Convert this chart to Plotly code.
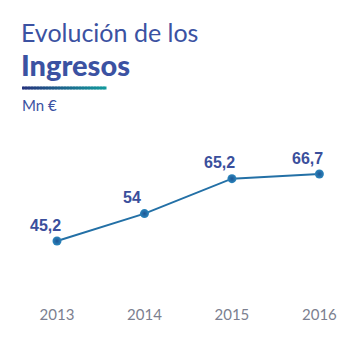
import plotly.graph_objects as go

# Revenue series (millions of euros)
years = [2013, 2014, 2015, 2016]
ingresos = [45.2, 54.0, 65.2, 66.7]
value_labels = ["45,2", "54", "65,2", "66,7"]
tick_labels = ["2013", "2014", "2015", "2016"]

W, H = 354, 338
M_L, M_R, M_T, M_B = 0, 0, 0, 40
plot_h = H - M_T - M_B

def px_x(px):
    return px / W

def px_y(py):
    return 1 - (py - M_T) / plot_h

TITLE_BLUE = "#3b52a2"
LINE_BLUE = "#2370a6"

fig = go.Figure()

fig.add_trace(go.Scatter(
    x=years,
    y=ingresos,
    mode="lines+markers",
    line=dict(color=LINE_BLUE, width=2),
    marker=dict(size=9, color="#2b86bd",
                gradient=dict(type="radial", color="#1d5594")),
    hoverinfo="skip",
    showlegend=False,
))

# Value labels above each point
for x, y, t in zip(years, ingresos, value_labels):
    fig.add_annotation(
        x=x, y=y, text=t, showarrow=False,
        xshift=-12, yshift=16,
        font=dict(family="Liberation Sans", size=16, color="#3a4f9c", weight="bold"),
    )

# Heading block
fig.add_annotation(
    xref="paper", yref="paper", x=px_x(20), y=px_y(32.5),
    xanchor="left", yanchor="middle", showarrow=False, borderpad=0,
    text="Evolución de los",
    font=dict(family="Lato", size=25, color=TITLE_BLUE, weight=400),
)
fig.add_annotation(
    xref="paper", yref="paper", x=px_x(20), y=px_y(65),
    xanchor="left", yanchor="middle", showarrow=False, borderpad=0,
    text="Ingresos",
    font=dict(family="Lato", size=29, color=TITLE_BLUE, weight=900),
)
fig.add_annotation(
    xref="paper", yref="paper", x=px_x(20), y=px_y(105),
    xanchor="left", yanchor="middle", showarrow=False,
    text="Mn €",
    font=dict(family="Lato", size=15, color=TITLE_BLUE),
)

# Gradient rule under the heading
c0 = (0x26, 0x35, 0x7e)
c1 = (0x13, 0x99, 0x9c)
n = 56
x0, x1 = 22, 106
for i in range(n):
    f = i / (n - 1)
    col = "rgb(%d,%d,%d)" % tuple(round(a + (b - a) * f) for a, b in zip(c0, c1))
    xa = x0 + (x1 - x0) * i / n
    xb = x0 + (x1 - x0) * (i + 1) / n + 0.5
    fig.add_shape(
        type="rect", xref="paper", yref="paper",
        x0=px_x(xa), x1=px_x(xb), y0=px_y(89.5), y1=px_y(86.5),
        fillcolor=col, line=dict(width=0), layer="above",
    )

ppy = 87.47  # pixels per year
x_lo = 2013 - 57 / ppy
x_hi = 2016 + (W - 319.4) / ppy
ppv = 3.116  # pixels per million
y_hi = 45.2 + 241 / ppv
y_lo = 45.2 - (plot_h - 241) / ppv

fig.update_layout(
    width=W, height=H,
    margin=dict(l=M_L, r=M_R, t=M_T, b=M_B),
    paper_bgcolor="white", plot_bgcolor="white",
    xaxis=dict(
        range=[x_lo, x_hi], tickvals=years, ticktext=tick_labels,
        showgrid=False, zeroline=False, showline=False, ticks="",
        ticklabelstandoff=6,
        tickfont=dict(family="Lato", size=15, color="#7c7f90"),
        fixedrange=True,
    ),
    yaxis=dict(
        range=[y_lo, y_hi], visible=False, fixedrange=True,
    ),
)

fig.write_html("out.html", config={"displayModeBar": False})
